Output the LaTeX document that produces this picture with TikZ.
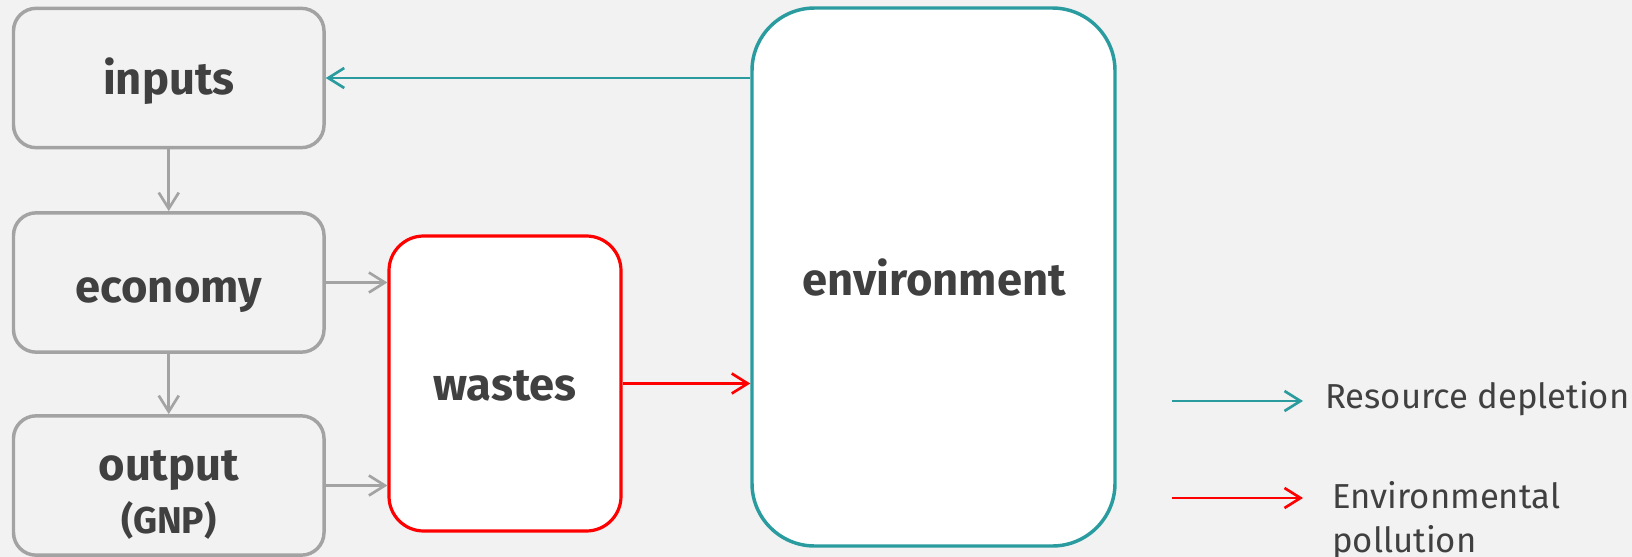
\documentclass[tikz,border=0pt]{standalone}
\usepackage{fontspec}
\setmainfont{Fira Sans}
\usetikzlibrary{arrows.meta}
\definecolor{bg}{HTML}{F2F2F2}
\definecolor{txt}{HTML}{404040}
\definecolor{boxgray}{HTML}{A3A3A3}
\definecolor{tealc}{HTML}{2A9C9F}
\definecolor{redc}{HTML}{FF0000}
\begin{document}
\begin{tikzpicture}[x=0.75pt,y=-0.75pt,
  lbl/.style={text=txt, font=\bfseries\fontsize{34}{38}\selectfont, inner sep=0pt, anchor=base},
  sublbl/.style={text=txt, font=\bfseries\fontsize{28}{32}\selectfont, inner sep=0pt, anchor=base},
  gbox/.style={draw=boxgray, line width=2.6pt, rounded corners=17pt, fill=bg,
    minimum width=232.9pt, minimum height=104.5pt, inner sep=0pt},
  wbox/.style={draw=redc, line width=2.4pt, rounded corners=26pt, fill=white,
    minimum width=174pt, minimum height=221.25pt, inner sep=0pt},
  ebox/.style={draw=tealc, line width=2.6pt, rounded corners=47pt, fill=white,
    minimum width=272.25pt, minimum height=403.5pt, inner sep=0pt},
  tipped/.style={line width=2pt, -{Straight Barb[length=12pt,width=15pt]}},
  garrow/.style={tipped, draw=boxgray},
  tarrow/.style={tipped, draw=tealc},
  rarrow/.style={tipped, draw=redc},
  legtext/.style={text=txt, font=\fontsize{26}{33}\selectfont, inner sep=0pt}
]
\fill[bg] (0,0) rectangle (1632,557);
\useasboundingbox (0,0) rectangle (1632,557);

\node[gbox] (inputs) at (168.75,78) {};
\node[gbox] (economy) at (168.75,282.5) {};
\node[gbox] (output) at (168.75,485.5) {};
\node[wbox] (wastes) at (505,383.5) {};
\node[ebox] (env) at (933.5,277) {};

\node[lbl] (inputslabel) at (168.75,94) {inputs};
\node[lbl] (economylabel) at (168.75,302) {economy};
\node[lbl] (outputlabel) at (168.75,480) {output};
\node[sublbl] (gnplabel) at (168.75,533) {(GNP)};
\node[lbl] (wasteslabel) at (505,400) {wastes};
\node[lbl] (envlabel) at (934,295) {environment};

\draw[garrow] (inputs.south) -- (economy.north);
\draw[garrow] (economy.south) -- (output.north);
\draw[garrow] (economy.east) -- (economy.east -| wastes.west);
\draw[garrow] (output.east) -- (output.east -| wastes.west);
\draw[rarrow] (wastes.east) -- (wastes.east -| env.west);
\draw[tarrow] (inputs.east -| env.west) -- (inputs.east);

\coordinate (l1a) at (1172,401);
\coordinate (l1b) at (1303,401);
\coordinate (l2a) at (1172,498);
\coordinate (l2b) at (1303,498);
\draw[tarrow] (l1a) -- (l1b);
\draw[rarrow] (l2a) -- (l2b);
\node[legtext, anchor=base west] (leg1) at (1325,408) {Resource depletion};
\node[legtext, anchor=base west] (leg2a) at (1332,508) {Environmental};
\node[legtext, anchor=base west] (leg2b) at (1332,552) {pollution};
\end{tikzpicture}
\end{document}
